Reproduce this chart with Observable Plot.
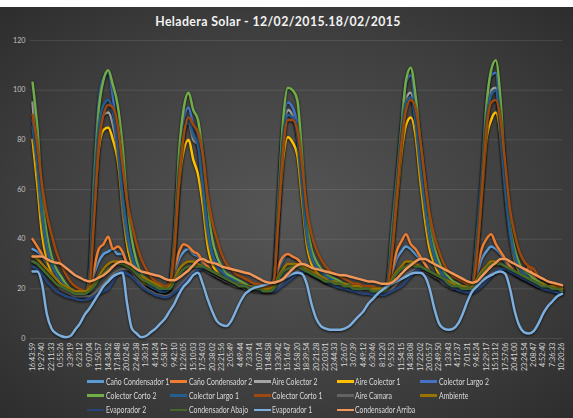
<!DOCTYPE html>
<html><head><meta charset="utf-8">
<script src="https://cdn.jsdelivr.net/npm/d3@7"></script>
<script src="https://cdn.jsdelivr.net/npm/@observablehq/plot@0.6"></script>
<style>
body{margin:0;background:#fff;}
#chart{position:relative;width:573px;height:411px;margin-top:7px;overflow:hidden;
 background:radial-gradient(ellipse 75% 75% at 50% 50%, #565656 0%, #3e3e3e 60%, #2a2a2a 100%);
 font-family:Lato,"Liberation Sans",sans-serif;}
#title{height:25px;line-height:30px;text-align:center;width:556px;color:#f2f2f2;font-weight:bold;font-size:12.3px;letter-spacing:0.4px;}
#plot svg{display:block;}
#plot g[aria-label="line"]{filter:drop-shadow(0.6px 1px 0.8px rgba(0,0,0,0.75));}
#legend{position:relative;height:37px;}
#legend .item{position:absolute;height:12px;line-height:12px;white-space:nowrap;color:#d9d9d9;font-size:8.6px;}
#legend .sw{display:inline-block;width:17px;height:2.5px;vertical-align:middle;margin-right:1.5px;position:relative;top:-1px;}
#legend .tx{display:inline-block;transform:scaleX(0.8);transform-origin:0 50%;}
</style></head>
<body>
<div id="chart">
 <div id="title">Heladera Solar - 12/02/2015.18/02/2015</div>
 <div id="plot"></div>
 <div id="legend"></div>
</div>
<script>
const timeLabels = ["16:43:59","19:27:40","22:11:33","0:55:26","3:39:19","6:23:12","9:07:04","11:50:57","14:34:52","17:18:48","20:02:45","22:46:38","1:30:31","4:14:24","6:58:17","9:42:10","12:26:05","15:10:03","17:54:03","20:38:02","23:21:56","2:05:49","4:49:44","7:33:41","10:07:14","11:48:58","13:30:42","15:16:47","16:58:20","18:39:54","20:21:28","22:03:01","23:44:33","1:26:07","3:07:39","4:49:12","6:30:46","8:12:20","9:53:53","11:54:15","14:38:08","17:22:02","20:05:57","22:49:50","1:33:43","4:17:37","7:01:31","9:45:24","12:29:17","15:13:12","17:57:06","20:41:00","23:24:54","2:08:47","4:52:40","7:36:33","10:20:26"];
const yTicks = [0, 20, 40, 60, 80, 100, 120];
const sampleStep = 0.5; // two readings per labelled category

const canoCondensador1 = [36,35,33,30,27,25,23,21,20,19,18,18, 20,26,31,34,35,36,34,34,30,27, 25,23,22,21,20,19,19,20, 26,32,35,36,34,33,30,28,26,25,24, 23,23,22,22,21,21,21,20,20,20,22, 28,32,34,33,32,30,28,26,25, 24,23,23,22,22,21,21,21,20,20,20,20,20,20,21, 26,32,35,37,36,34,32,30,27,25,24, 23,22,21,21,20,20,21, 26,32,35,37,36,34,31,28,26,25, 24,27,25,23,22,21,21,20,20];
const canoCondensador2 = [40,37,34,31,28,25,23,21,20,19,18,18, 20,28,36,38,41,36,37,35,30,27, 25,23,22,21,20,19,19,20, 28,35,38,37,35,34,31,29,27,25,24, 23,23,22,22,21,21,21,20,20,20,22, 29,33,34,33,32,30,28,26,25, 24,23,23,22,22,21,21,21,20,20,20,20,20,20,21, 27,35,39,42,38,36,33,30,27,25,24, 23,22,21,21,20,20,21, 28,36,40,42,38,35,32,29,27,25, 24,29,25,23,22,21,21,20,20];
const aireColector2 = [95,72,48,35,29,25,22,20,19,18,17,17, 22,58,84,90,91,86,74,52,38,31, 27,24,22,21,20,19,19,20, 38,66,84,87,80,78,58,40,31,28,26, 24,23,22,21,21,20,20,20,19,19,22, 52,82,92,90,82,60,40,31,28, 26,24,23,22,21,21,20,20,20,19,19,19,19,19,21, 38,60,82,97,99,88,70,52,38,31,27, 24,23,21,20,20,20,21, 38,60,88,100,101,80,58,41,31,27, 25,23,22,21,21,20,20,19,19];
const aireColector1 = [80,62,42,32,27,24,22,20,19,18,18,18, 21,50,76,84,85,80,72,55,38,30, 26,24,22,21,20,19,19,20, 34,62,76,80,72,66,54,38,30,27,25, 24,23,22,21,21,20,20,20,20,20,22, 48,72,81,79,74,56,38,30,27, 25,24,23,22,21,21,20,20,20,20,19,19,19,19,21, 34,54,74,86,89,82,64,48,36,30,26, 24,22,21,20,20,20,21, 34,56,80,88,91,82,62,44,32,27, 25,23,22,21,21,20,20,19,19];
const colectorLargo2 = [88,75,52,38,30,26,23,21,19,18,17,17, 26,66,95,105,107,97,80,60,44,34, 28,25,23,21,20,19,19,21, 42,72,89,93,86,82,64,46,35,30,27, 25,24,23,22,21,21,20,20,20,20,24, 58,86,95,93,86,64,43,34,30, 27,25,24,23,22,22,21,21,20,20,20,20,19,20,22, 44,64,85,103,106,93,74,56,42,34,29, 26,24,22,21,21,20,22, 42,66,94,106,107,88,62,44,34,29, 26,25,23,22,21,21,20,19,19];
const colectorCorto2 = [103,85,58,42,33,28,25,22,20,19,18,18, 24,62,92,104,108,102,94,78,55,40, 31,26,24,22,21,20,20,22, 40,75,93,99,92,88,74,55,40,33,29, 26,25,24,23,22,21,21,20,20,20,23, 55,88,101,100,96,74,48,36,31, 28,26,25,24,23,22,22,21,21,20,20,20,20,20,22, 42,62,84,104,109,98,80,63,47,37,31, 27,25,23,22,21,21,22, 40,62,93,108,112,96,66,46,36,30, 27,26,24,23,22,21,21,20,20];
const colectorLargo1 = [85,70,50,37,30,26,23,21,19,18,17,17, 22,56,84,94,96,91,78,58,42,33, 28,25,23,21,20,19,19,20, 36,66,82,88,82,78,62,44,34,29,27, 25,24,23,22,21,21,20,20,20,20,23, 50,80,90,89,82,62,42,33,29, 27,25,24,23,22,21,21,20,20,20,19,19,19,19,21, 38,58,80,95,97,88,70,54,41,33,28, 25,23,22,21,20,20,21, 38,60,86,98,100,84,60,43,33,28, 26,24,23,22,21,20,20,19,19];
const colectorCorto1 = [90,78,62,50,42,35,30,26,23,21,20,19, 21,48,78,90,94,93,86,70,55,46, 38,32,28,25,23,22,21,22, 36,64,82,89,86,83,74,58,47,40,34, 30,28,26,25,24,23,22,22,21,21,23, 48,76,88,88,84,70,52,42,36, 32,29,27,26,25,24,23,22,22,21,21,21,20,20,21, 34,56,78,92,96,93,80,64,50,41,35, 30,27,25,24,23,22,22, 34,58,84,95,96,88,70,52,42,35, 31,29,28,25,24,23,22,21,21];
const aireCamara = [31,30,28,26,24,22,20,19,18,17,17,17, 17,18,20,22,24,26,27,28,28,27, 24,22,20,19,18,17.5,17,17.5, 19,21,23,25,27,28,28,27,26,25,24, 23,22,21,21,20,20,19,19,19,19,19, 21,23,25,26,27,27,27,26,25, 24,23,22,22,21,21,20,20,19,19,19,18.5,18.5,18.5,19, 20,22,24,26,27,28,28,27,26,25,24, 22,21,20,20,19,19,19, 20,22,24,26,27,28,28,27,26,25, 24,23,22,21,21,20,20,19,19];
const ambiente = [33,32,30,28,26,24,22,21,20,19,19,19, 20,22,25,28,30,31,31,30,29,28, 26,25,24,23,22,21,20,21, 24,28,30,31,31,30,29,28,27,26,25, 24,23,22,22,21,21,20,20,20,20,21, 25,28,30,30,30,29,28,27,26, 25,24,23,23,22,22,21,21,21,20,20,20,20,20,21, 24,27,29,31,31,30,29,28,27,26,25, 24,23,22,21,21,20,21, 24,27,29,31,31,30,29,28,27,26, 25,24,23,22,22,21,21,20,20];
const evaporador2 = [29,28,26,23,21,19,18,17,16.5,16,15.5,15.5, 16,17,18,19,20,23,26,27,26,25, 23,21,19.5,18.5,17.5,17,16.5,17, 18.5,20,22,24,26,27.5,28.5,28,27,26,25, 24,23,22,21.5,21,20.5,20,19.5,19,19,19, 20,21.5,23,24.5,26,27,27,26,25, 24,23,22,21,20.5,20,19.5,19,18.5,18,18,17.5,17.5,17.5,18, 19,20,21,23,25,27,28,28,27,26,25, 23,21.5,20.5,19.5,19,18.5,18.5, 19.5,21,23,25,27,28,28,27,26,25, 24,23,22,21,20,19.5,19,18.5,18];
const condensadorAbajo = [31,30,28,26,24,22,21,20,19,18,18,18, 19,21,24,26,28,29,30,30,29,28, 26,24,23,22,21,20,20,20, 23,26,28,29,29,29,29,28,27,26,25, 24,23,22,21,21,20,20,20,19,19,20, 24,27,28,29,29,28,27,26,25, 24,23,23,22,22,21,21,20,20,20,20,19,19,19,20, 23,26,28,29,30,29,29,28,27,26,25, 24,22,21,21,20,20,20, 23,26,28,30,30,30,29,28,27,26, 25,24,23,22,21,21,20,20,19];
const evaporador1 = [27,27,22,10,4,2,1,0.5,1,3.5,6,9.5, 12,15,18,21,23,25,26,26.5,14,4, 2,0.5,1,2.5,4,6,8,11, 14,18,21,23,25.5,26.5,22,16,11,7,5.5, 5,7,11,15,18,19.5,20.5,21,21.5,22,22.5, 23,24,25,26,26.5,26,22,14,8, 5,4,3.5,3.5,3.5,4,5,7,9,11,14,16,18,19.5,21, 22,23,24,25,26,26.5,26.5,25,20,12,6, 4,3.5,4,6,10,15,19, 21,23,24.5,25.5,26.5,27,26,20,11,5, 2.5,2,3,6,10,13,15,17,18];
const condensadorArriba = [33,33,33,32,31,30.5,30,28.5,27,25.5,24.5,23.5, 23,23.5,24.5,25.5,27,29,30.5,31,30.5,29.5, 28,27,26.5,26,25.5,25,24,23.5, 23.5,24.5,26,27.5,29.5,31.5,32,31,30.5,30,29, 28.5,28,27.5,27,26.5,26,25,24,23,22.5,22.5, 23,24,26,28,29.5,30,29.5,28.5,28, 27.5,27,26.5,26,25.5,25.5,25,24.5,24,23.5,23,23,22.5,22,22, 22.5,24,26,28,29.5,31,32,32,31,30,29, 28,27,26,25,24,23,22.5, 23,25,27,29,30.5,32,32,31,30,29, 28,27,26,25,24,23,22.5,22,21.5];

const seriesNames = ["Caño Condensador 1","Caño Condensador 2","Aire Colector 2","Aire Colector 1","Colector Largo 2","Colector Corto 2","Colector Largo 1","Colector Corto 1","Aire Camara","Ambiente","Evaporador 2","Condensador Abajo","Evaporador 1","Condensador Arriba"];
const seriesValues = [canoCondensador1, canoCondensador2, aireColector2, aireColector1, colectorLargo2, colectorCorto2, colectorLargo1, colectorCorto1, aireCamara, ambiente, evaporador2, condensadorAbajo, evaporador1, condensadorArriba];
const seriesColors = ["#5B9BD5","#ED7D31","#A5A5A5","#FFC000","#4472C4","#70AD47","#255E91","#9E480E","#636363","#997300","#264478","#43682B","#7CAFDD","#F1975A"];

const tickIndex = timeLabels.map((_, i) => i);

const chart = Plot.plot({
  width: 573,
  height: 342,
  marginLeft: 30,
  marginRight: 11,
  marginTop: 8,
  marginBottom: 36,
  x: {domain: [-0.22, 56.05]},
  y: {domain: [0, 120]},
  style: {background: "transparent", color: "#c8c8c8", fontFamily: "Lato,'Liberation Sans',sans-serif", fontSize: "7.2px"},
  marks: [
    Plot.ruleY(yTicks, {stroke: "#ffffff", strokeOpacity: 0.1, strokeWidth: 1}),
    Plot.axisY(yTicks, {tickSize: 0, tickPadding: 5, color: "#c0c0c0", label: null}),
    Plot.axisX(tickIndex, {tickFormat: i => timeLabels[i], tickRotate: -90, tickSize: 0, tickPadding: 4, color: "#d6d6d6", label: null}),
    ...seriesValues.map((vals, k) => Plot.lineY(vals, {
      x: (d, i) => i * sampleStep,
      y: d => d,
      stroke: seriesColors[k],
      strokeWidth: 2.5,
      curve: "monotone-x"
    }))
  ]
});
document.getElementById("plot").appendChild(chart);

const legend = document.getElementById("legend");
seriesNames.forEach((name, k) => {
  const item = document.createElement("div");
  item.className = "item";
  item.style.left = (87 + (k % 5) * 83.3) + "px";
  item.style.top = (1.7 + Math.floor(k / 5) * 14.2) + "px";
  const sw = document.createElement("span");
  sw.className = "sw";
  sw.style.background = seriesColors[k];
  const tx = document.createElement("span");
  tx.className = "tx";
  tx.textContent = name;
  item.appendChild(sw);
  item.appendChild(tx);
  legend.appendChild(item);
});
</script>
</body></html>
